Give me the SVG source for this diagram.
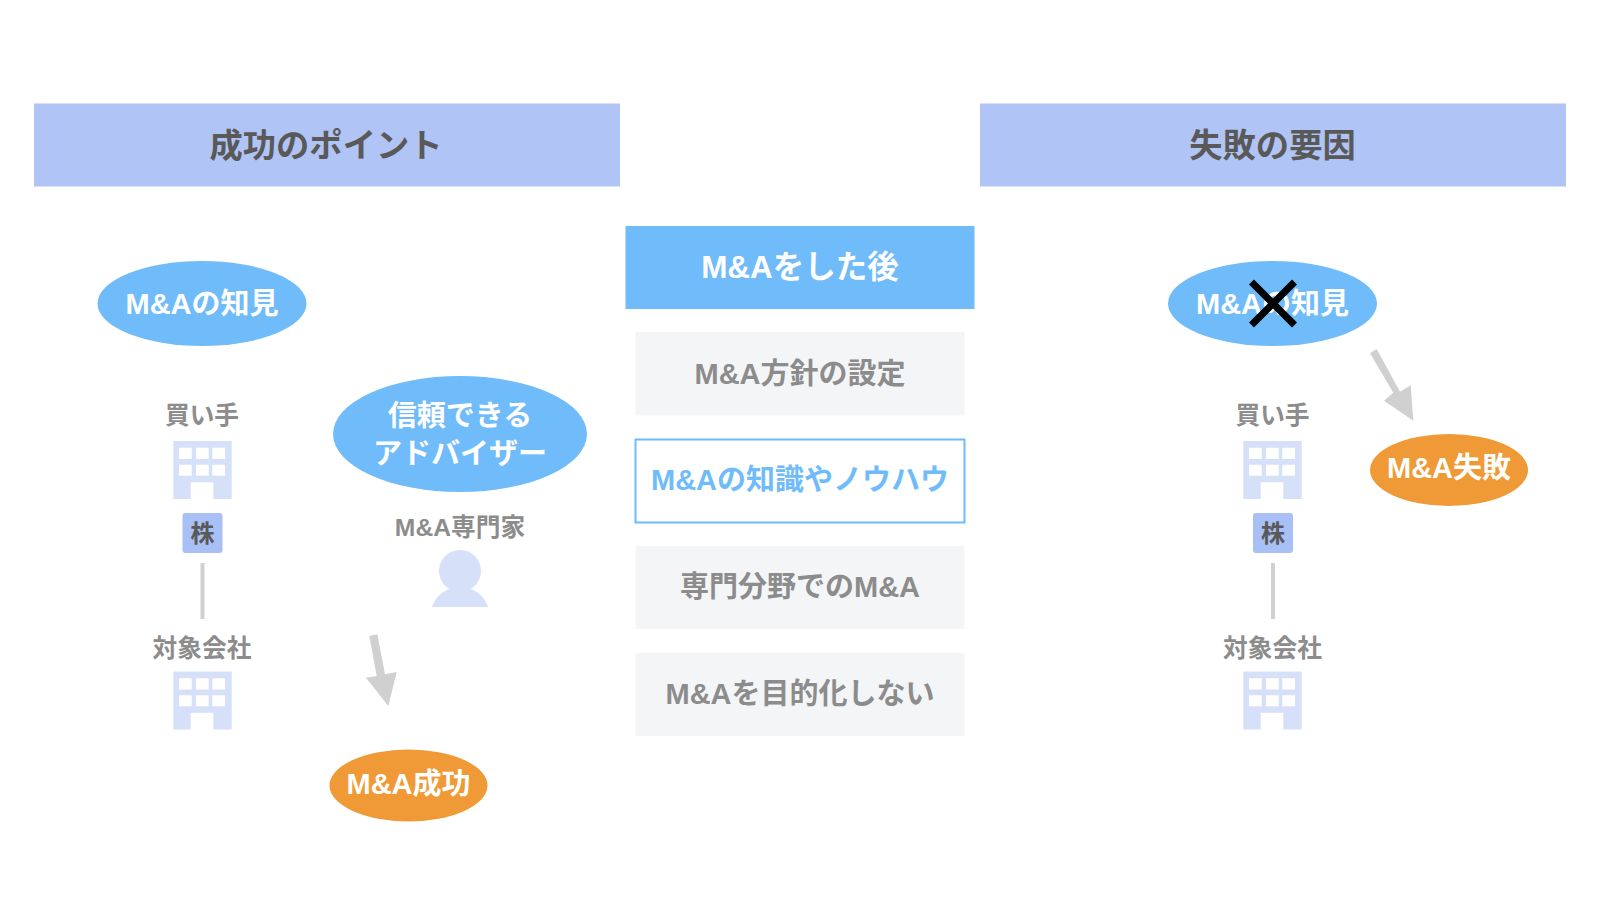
<svg xmlns="http://www.w3.org/2000/svg" width="1600" height="900" viewBox="0 0 1600 900">
<style>
text{font-family:"Liberation Sans","Noto Sans CJK JP",sans-serif;font-weight:700;text-anchor:middle}
.hd{fill:#b0c4f5}.hdt{font-size:33.300px;fill:#595959}
.blue{fill:#70bbf9}.or{fill:#ef9a36}.w{fill:#fff;font-size:29px}
.g{fill:#8c8c8c;font-size:29px}.lb{fill:#8c8c8c;font-size:24.700px}
.box{fill:#f4f5f7}.bld{fill:#d6e0f9}.kb{fill:#a8c0f5}.arw{fill:#d0d0d0}
</style>
<defs>
<g id="building"><path class="bld" d="M0 0H58.400V58H40V41.300H17.400V58H0Z"/><path fill="#fff" d="M5.700 6.700h12.700v11.300H5.700zM22.700 6.700h12.700v11.300H22.700zM39 6.700h12.700v11.300H39zM5.700 23.700h12.700v11H5.700zM22.700 23.700h12.700v11H22.700zM39 23.700h12.700v11H39z"/></g>
</defs>
<g id="header-success"><rect class="hd" x="34" y="103.500" width="586" height="83"/><text class="hdt" x="326" y="157">成功のポイント</text></g>
<g id="header-failure"><rect class="hd" x="980" y="103.500" width="586" height="83"/><text class="hdt" x="1272.500" y="157">失敗の要因</text></g>
<g id="center-header"><rect class="blue" x="625.500" y="226" width="349" height="83"/><text class="w" style="font-size:31.500px" x="800" y="278">M&amp;Aをした後</text></g>
<g id="c1"><rect class="box" x="635.500" y="332" width="329" height="83.500"/><text class="g" x="800" y="384">M&amp;A方針の設定</text></g>
<g id="c2"><rect x="635.500" y="439.500" width="329" height="83" fill="#fff" stroke="#70bbf9" stroke-width="2"/><text class="g" style="fill:#70bbf9" x="800" y="490">M&amp;Aの知識やノウハウ</text></g>
<g id="c3"><rect class="box" x="635.500" y="546" width="329" height="83"/><text class="g" x="800" y="597">専門分野でのM&amp;A</text></g>
<g id="c4"><rect class="box" x="635.500" y="653" width="329" height="83"/><text class="g" x="800" y="704">M&amp;Aを目的化しない</text></g>

<g id="connectors">
<path class="arw" d="M200.500 563h4v56h-4z"/>
<path class="arw" d="M1271 563h4v56h-4z"/>
<path class="arw" d="M369.300 636L377.300 634.300L385 674.300L396.700 672L388.300 706L366 677.700L376.700 676Z"/>
<path class="arw" d="M1370 353.300L1376.700 349L1400 391.700L1410.700 385.300L1413.300 420.700L1384 400.700L1393.300 392.700Z"/>
</g>

<g id="left-knowledge"><ellipse class="blue" cx="202" cy="303.500" rx="104.500" ry="42.500"/><text class="w" x="202" y="314">M&amp;Aの知見</text></g>
<g id="left-buyer"><text class="lb" x="202" y="424">買い手</text><use href="#building" x="173.300" y="441"/></g>
<g id="left-kabu"><rect class="kb" x="182.500" y="513" width="40" height="40" rx="3"/><text x="202.500" y="542" font-size="24" fill="#595959">株</text></g>
<g id="left-target"><text class="lb" x="202" y="657">対象会社</text><use href="#building" x="173.300" y="671.500"/></g>
<g id="advisor"><ellipse class="blue" cx="460" cy="434" rx="127" ry="58"/><text class="w" x="460" y="426">信頼できる</text><text class="w" x="460" y="464">アドバイザー</text></g>
<g id="expert"><text class="lb" x="460" y="536">M&amp;A専門家</text><circle class="bld" cx="460" cy="571" r="21"/><path class="bld" d="M432 607C436 594 448 587 460 587C472 587 484 594 488 607Z"/></g>
<g id="success"><ellipse class="or" cx="408.500" cy="785.500" rx="79" ry="36"/><text class="w" x="408.500" y="794">M&amp;A成功</text></g>

<g id="right-knowledge"><ellipse class="blue" cx="1272.500" cy="303.500" rx="104.500" ry="42.500"/><text class="w" x="1272.500" y="314">M&amp;Aの知見</text><path d="M1251.500 282L1294.500 325M1294.500 282L1251.500 325" stroke="#000" stroke-width="7" fill="none"/></g>
<g id="right-buyer"><text class="lb" x="1272.500" y="424">買い手</text><use href="#building" x="1243.300" y="441"/></g>
<g id="right-kabu"><rect class="kb" x="1253" y="513" width="40" height="40" rx="3"/><text x="1273" y="542" font-size="24" fill="#595959">株</text></g>
<g id="right-target"><text class="lb" x="1272.500" y="657">対象会社</text><use href="#building" x="1243.300" y="671.500"/></g>
<g id="failure"><ellipse class="or" cx="1449" cy="470" rx="79" ry="36"/><text class="w" x="1449" y="478">M&amp;A失敗</text></g>
</svg>
